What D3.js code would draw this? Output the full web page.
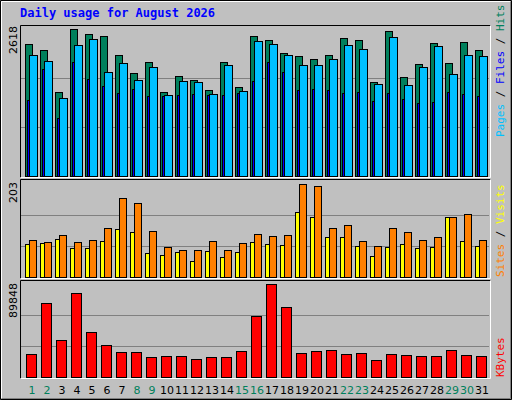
<!DOCTYPE html>
<html><head><meta charset="utf-8">
<script src="https://cdn.jsdelivr.net/npm/d3@7"></script>
<style>body{margin:0;background:#fff}</style></head>
<body><svg id="c" width="512" height="400"></svg>
<script>
const days = d3.range(1,32);
const weekend = [1,2,8,9,15,16,22,23,29,30];
const hits  = [2346,2239,1491,2613,2524,2488,2150,1829,2025,1491,1776,1704,1526,2025,1580,2488,2417,2185,2132,2078,2150,2453,2417,1669,2577,1758,1989,2364,2007,2382,2239];
const files = [2150,2043,1384,2328,2435,1847,2007,1704,1936,1437,1687,1669,1455,1972,1509,2399,2346,2150,1972,1972,2078,2328,2257,1633,2470,1615,1936,2310,1811,2150,2132];
const pages = [1354,1906,1033,2031,1722,1597,1473,1544,1419,1419,1437,1455,1437,1437,1473,1687,2025,1847,1526,1544,1526,1473,1491,1330,1473,1366,1294,1312,1491,1455,1419];
const sites = [71,74,84,63,63,78,104,98,52,47,54,36,56,43,54,76,71,69,141,132,87,87,67,45,65,71,63,65,130,78,67];
const visits= [80,76,91,76,80,108,172,161,100,65,58,58,78,60,74,93,89,91,203,198,106,113,78,67,108,98,80,87,130,137,80];
const kbytes= [22150,71970,35840,80760,43650,30950,24120,24120,19240,20210,20210,17280,19240,19240,25100,59280,89848,68070,23150,25100,26070,22150,23150,16310,22150,21190,20210,20210,26070,21190,20210];
const maxLabels = ["2618","203","89848"];

const svg = d3.select("#c");
// background & bevel
svg.append("rect").attr("x",0).attr("y",0).attr("width",512).attr("height",400).attr("fill","#c0c0c0");
svg.append("path").attr("d","M0.5,399.5V0.5H511.5").attr("stroke","#000").attr("fill","none");
svg.append("path").attr("d","M1.5,398.5V1.5H510.5").attr("stroke","#fff").attr("fill","none");
svg.append("path").attr("d","M1.5,398.5H510.5V1.5").attr("stroke","#808080").attr("fill","none");
svg.append("path").attr("d","M0.5,399.5H511.5V0.5").attr("stroke","#000").attr("fill","none");

svg.append("text").attr("x",20).attr("y",17).text("Daily usage for August 2026")
  .attr("font-family","DejaVu Sans Mono").attr("font-weight","bold").attr("font-size",12).attr("fill","#0000ff");

const X0=20, X1=490;
const x = d3.scaleLinear().domain([1,31]).range([25,475]); // left of each day group

function panel(y0,y1,top){
  const g=svg.append("g");
  g.append("rect").attr("x",X0).attr("y",y0).attr("width",X1-X0).attr("height",y1-y0).attr("fill","#c0c0c0");
  const base=y1-1;
  [1,2].forEach(k=>{const yy=Math.round(base-(base-top)*k/3)+0.5;
    g.append("line").attr("x1",X0+1).attr("x2",X1-1).attr("y1",yy).attr("y2",yy).attr("stroke","#808080");});
  g.append("path").attr("d",`M${X0+0.5},${y1+0.5}V${y0+0.5}H${X1+0.5}`).attr("stroke","#000").attr("fill","none");
  g.append("path").attr("d",`M${X0+0.5},${y1+0.5}H${X1+0.5}V${y0+0.5}`).attr("stroke","#fff").attr("fill","none");
  return g;
}
function bars(g,data,y,dx,w,color){
  g.selectAll(null).data(data).enter().append("rect")
   .attr("x",(d,i)=>x(days[i])+dx+0.5).attr("y",d=>Math.round(y(d))+0.5)
   .attr("width",w).attr("height",d=>y(0)-Math.round(y(d)))
   .attr("fill",color).attr("stroke","#000");
}
// top panel
const g1=panel(25,177,29);
const y1=d3.scaleLinear().domain([0,2618]).range([176,29]);
bars(g1,hits,y1,0,7,"#00805c");
bars(g1,pages,y1,2,2,"#0000ff");
bars(g1,files,y1,4,8,"#00c0ff");
// middle
const g2=panel(179,278,184);
const y2=d3.scaleLinear().domain([0,203]).range([277,184]);
bars(g2,sites,y2,0,4,"#ffff00");
bars(g2,visits,y2,4,7,"#ff8000");
// bottom
const g3=panel(280,378,284);
const y3=d3.scaleLinear().domain([0,89848]).range([377,284]);
bars(g3,kbytes,y3,1,10,"#ff0000");

// day labels
svg.selectAll(null).data(days).enter().append("text")
 .attr("x",d=>x(d)+7).attr("y",394).attr("text-anchor","middle")
 .attr("font-family","DejaVu Sans").attr("font-size",11)
 .attr("fill",d=>weekend.includes(d)?"#00805c":"#000").text(d=>d);

// max labels
[[25,0],[181,1],[282,2]].forEach(([yy,i])=>{
  svg.append("text").attr("transform",`translate(17,${yy+1}) rotate(-90)`).attr("text-anchor","end")
   .attr("font-family","DejaVu Sans").attr("font-size",11).attr("fill","#000").text(maxLabels[i]);
});
// side labels
function side(y,parts){
  const t=svg.append("text").attr("transform",`translate(504,${y}) rotate(-90)`).attr("text-anchor","start")
   .attr("font-family","DejaVu Sans Mono").attr("font-size",11);
  parts.forEach(([s,c])=>t.append("tspan").attr("fill",c).text(s));
}
side(137,[["Pages","#00c0ff"],[" / ","#000"],["Files","#0000ff"],[" / ","#000"],["Hits","#00805c"]]);
side(277,[["Sites","#ff8000"],[" / ","#000"],["Visits","#ffff00"]]);
side(377,[["KBytes","#ff0000"]]);
</script></body></html>
